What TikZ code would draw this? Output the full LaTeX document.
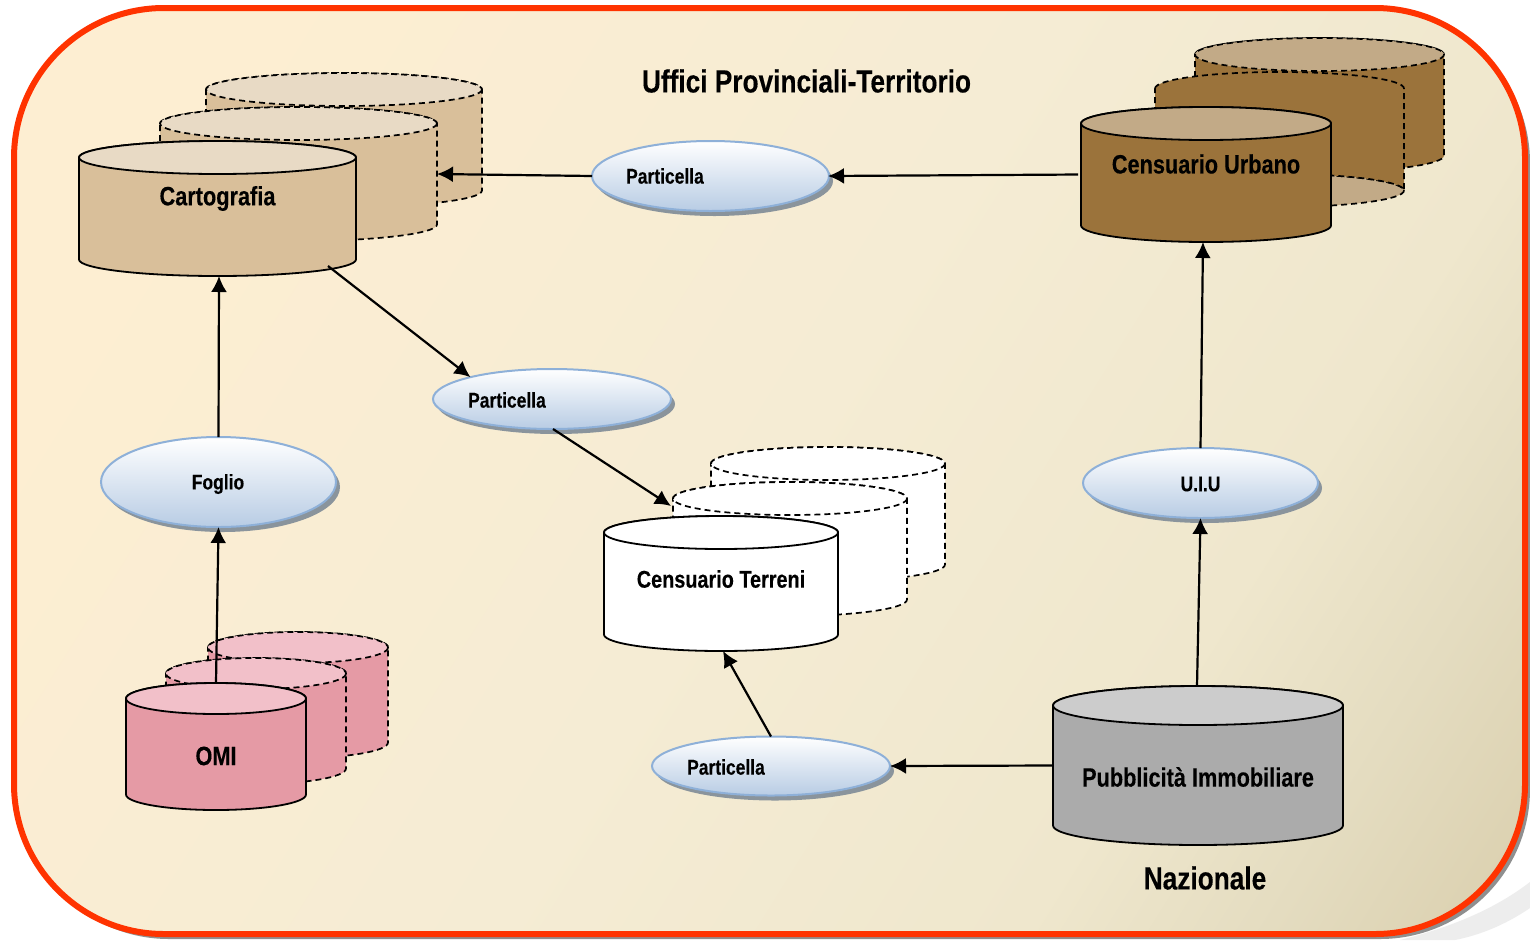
\documentclass[tikz,border=0pt]{standalone}
\usepackage{fontspec}
\setmainfont{Liberation Sans}[FakeStretch=0.82,BoldFeatures={FakeBold=0.25}]
\usetikzlibrary{arrows.meta,shapes.geometric}
\definecolor{frame}{HTML}{FF3300}
\definecolor{shfr}{HTML}{8F8F8F}
\definecolor{ellb}{HTML}{B8CCE4}
\definecolor{elld}{HTML}{8EB0D8}
\definecolor{ellsh}{HTML}{8A949C}
\definecolor{cartoB}{HTML}{D9BF9A}\definecolor{cartoT}{HTML}{E8DAC5}
\definecolor{urbB}{HTML}{9B733B}\definecolor{urbT}{HTML}{C2AA87}
\definecolor{omiB}{HTML}{E59AA5}\definecolor{omiT}{HTML}{F2C0C9}
\definecolor{pubB}{HTML}{ABABAB}\definecolor{pubT}{HTML}{CCCCCC}
\definecolor{bgA}{HTML}{FDEED2}\definecolor{bgB}{HTML}{F5ECD4}\definecolor{bgC}{HTML}{EFE7CD}\definecolor{bgD}{HTML}{E4DCC0}\definecolor{bgE}{HTML}{D3C6A1}
\pgfdeclarehorizontalshading{bgshade}{100bp}{
 color(0bp)=(bgA); color(24bp)=(bgA); color(50bp)=(bgB); color(68bp)=(bgC); color(76bp)=(bgD); color(90bp)=(bgE); color(100bp)=(bgE)}
\tikzset{
 front/.style={line width=1.8pt,solid},
 back/.style={line width=1.7pt,dash pattern=on 6pt off 4pt},
 conn/.style={line width=2.2pt,-{Latex[length=16pt,width=16pt]}},
 midlbl/.style={font=\fontsize{26.5}{30}\selectfont\bfseries,inner sep=0pt},
 terlbl/.style={font=\fontsize{24.2}{28}\selectfont\bfseries,inner sep=0pt},
 smalllbl/.style={font=\fontsize{21.3}{24}\selectfont\bfseries,inner sep=0pt},
 titlelbl/.style={font=\fontsize{32}{36}\selectfont\bfseries,inner sep=0pt},
 oval/.style={ellipse,draw=elld,line width=2pt,top color=white,bottom color=ellb,inner sep=0pt,outer sep=0pt},
 cylbox/.style={rectangle,inner sep=0pt,outer sep=0pt}
}
% \cyl{style}{x0}{x1}{ytop}{ybot}{ellh}{body}{top}
\newcommand{\cyl}[8]{%
 \pgfmathsetmacro\cxm{(#2+#3)/2}%
 \pgfmathsetmacro\crx{(#3-#2)/2}%
 \pgfmathsetmacro\cry{#6/2}%
 \pgfmathsetmacro\cyc{#4+\cry}%
 \pgfmathsetmacro\cyb{#5-\cry}%
 \pgfmathsetmacro\ckx{\crx*0.5523}%
 \pgfmathsetmacro\cky{\cry*0.5523}%
 \path[#1,fill=#7,draw=black]
   (#2,\cyc) .. controls (#2,\cyc-\cky) and (\cxm-\ckx,#4) .. (\cxm,#4)
   .. controls (\cxm+\ckx,#4) and (#3,\cyc-\cky) .. (#3,\cyc)
   -- (#3,\cyb) .. controls (#3,\cyb+\cky) and (\cxm+\ckx,#5) .. (\cxm,#5)
   .. controls (\cxm-\ckx,#5) and (#2,\cyb+\cky) .. (#2,\cyb) -- cycle;
 \path[#1,fill=#8,draw=black] (\cxm,\cyc) ellipse ({\crx} and {\cry});
}
% flipped: ellipse at the bottom
\newcommand{\cylflip}[8]{%
 \pgfmathsetmacro\cxm{(#2+#3)/2}%
 \pgfmathsetmacro\crx{(#3-#2)/2}%
 \pgfmathsetmacro\cry{#6/2}%
 \pgfmathsetmacro\cyc{#4+\cry}%
 \pgfmathsetmacro\cyb{#5-\cry}%
 \pgfmathsetmacro\ckx{\crx*0.5523}%
 \pgfmathsetmacro\cky{\cry*0.5523}%
 \path[#1,fill=#8,draw=black] (\cxm,\cyb) ellipse ({\crx} and {\cry});
 \path[#1,fill=#7,draw=black]
   (#2,\cyc) .. controls (#2,\cyc-\cky) and (\cxm-\ckx,#4) .. (\cxm,#4)
   .. controls (\cxm+\ckx,#4) and (#3,\cyc-\cky) .. (#3,\cyc)
   -- (#3,\cyb) .. controls (#3,\cyb-\cky) and (\cxm+\ckx,#5-#6) .. (\cxm,#5-#6)
   .. controls (\cxm-\ckx,#5-#6) and (#2,\cyb-\cky) .. (#2,\cyb) -- cycle;
}
% \ovalnode{name}{x}{y}{rx}{ry}
\newcommand{\ovalnode}[5]{%
 \fill[ellsh] (#2+4,#3+5) ellipse ({#4} and {#5});
 \node[oval,minimum width=2*#4 pt,minimum height=2*#5 pt] (#1) at (#2,#3) {};
}
\begin{document}
\begin{tikzpicture}[x=1pt,y=-1pt]
\useasboundingbox (0,0) rectangle (1530,940);
\fill[white] (0,0) rectangle (1530,940);
% background swoosh
\fill[black!7] (1400,940) .. controls (1460,925) and (1500,905) .. (1530,882) -- (1530,908) .. controls (1505,925) and (1480,935) .. (1455,940) -- cycle;
% frame
\fill[shfr,rounded corners=150pt] (19,13) rectangle (1530,939);
\path[shading=bgshade,shading angle=-32,rounded corners=150pt] (14,8) rectangle (1525,934);
\draw[frame,line width=6pt,rounded corners=150pt] (14,8) rectangle (1525,934);
% Cartografia
\cyl{back}{206}{482}{73}{207}{33}{cartoB}{cartoT}
\cyl{back}{160}{437}{107}{241}{33}{cartoB}{cartoT}
\cyl{front}{79}{356}{141}{276}{33}{cartoB}{cartoT}
\node[cylbox,minimum width=277pt,minimum height=135pt] (carto) at (217.5,208.5) {};
\node[cylbox,minimum width=277pt,minimum height=134pt] (cartoback) at (298.5,174) {};
\node[midlbl] (cartot) at (217.5,198.5) {Cartografia};
% Urbano
\cyl{back}{1195}{1444}{38}{172}{33}{urbB}{urbT}
\cylflip{back}{1155}{1404}{72}{207}{33}{urbB}{urbT}
\cyl{front}{1081}{1331}{107}{242}{33}{urbB}{urbT}
\node[cylbox,minimum width=250pt,minimum height=135pt] (urb) at (1206,174.5) {};
\node[midlbl] (urbt) at (1206,164) {Censuario Urbano};
% Terreni
\cyl{back}{711}{945}{447}{581}{33}{white}{white}
\cyl{back}{673}{907}{482}{616}{33}{white}{white}
\cyl{front}{604}{838}{516}{651}{33}{white}{white}
\node[cylbox,minimum width=234pt,minimum height=135pt] (terr) at (721,583.5) {};
\node[cylbox,minimum width=234pt,minimum height=134pt] (terrback) at (790,549) {};
\node[terlbl] (terrt) at (721,579) {Censuario Terreni};
% OMI
\cyl{back}{208}{388}{632}{758}{31}{omiB}{omiT}
\cyl{back}{166}{346}{658}{784}{31}{omiB}{omiT}
\cyl{front}{126}{306}{683}{810}{31}{omiB}{omiT}
\node[cylbox,minimum width=180pt,minimum height=127pt] (omi) at (216,746.5) {};
\node[midlbl] (omit) at (216,756) {OMI};
% Pubblicita
\cyl{front}{1053}{1343}{686}{845}{39}{pubB}{pubT}
\node[cylbox,minimum width=290pt,minimum height=159pt] (pub) at (1198,765.5) {};
\node[midlbl] (pubt) at (1198,777) {Pubblicità Immobiliare};
% ellipses
\ovalnode{pa}{710.5}{176}{118.5}{35}
\ovalnode{pb}{552}{399}{119}{30}
\ovalnode{pc}{771}{766}{119}{29.5}
\ovalnode{fo}{218.5}{482}{117.5}{45}
\ovalnode{ui}{1200.5}{483}{117.5}{35}
\node[smalllbl] (pat) at (665,176) {Particella};
\node[smalllbl] (pbt) at (507,400) {Particella};
\node[smalllbl] (pct) at (726,767) {Particella};
\node[smalllbl] (fot) at (218,484) {Foglio};
\node[smalllbl] (uit) at (1200.5,484) {U.I.U};
% titles
\node[titlelbl] (title) at (806.5,81) {Uffici Provinciali-Territorio};
\node[titlelbl] (naz) at (1205,878) {Nazionale};
% connectors
\draw[conn,shorten <=3pt] (urb.west) -- ([xshift=-1pt]pa.east);
\draw[conn] (pa.west) -- (cartoback.east);
\draw[conn] (fo.north) -- ([xshift=1.5pt]carto.south);
\draw[conn] (omi.north) -- (fo.south);
\draw[conn] ([xshift=110.5pt,yshift=10pt]carto.south) -- (pb.165);
\draw[conn] ([xshift=1pt]pb.south) -- ([xshift=-119pt,yshift=-24pt]terrback.north);
\draw[conn] (pc.north) -- ([xshift=2pt]terr.south);
\draw[conn] (pub.west) -- (pc.east);
\draw[conn] ([xshift=-1pt]pub.north) -- (ui.south);
\draw[conn] (ui.north) -- ([xshift=-3pt]urb.south);
\end{tikzpicture}
\end{document}
